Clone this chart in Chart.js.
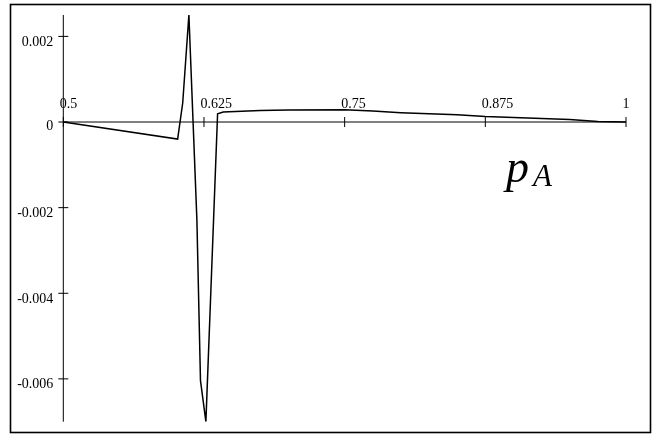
<!DOCTYPE html>
<html>
<head>
<meta charset="utf-8">
<script src="https://cdn.jsdelivr.net/npm/chart.js@4/dist/chart.umd.min.js"></script>
<style>
  html, body { margin: 0; padding: 0; background: #fff; }
  #c { display: block; }
</style>
</head>
<body>
<canvas id="c" width="664" height="436"></canvas>
<script>
// ---- data ----
const xValues = [0.5, 0.6016, 0.6061, 0.6116, 0.6187, 0.6219, 0.6267, 0.6371, 0.6421, 0.675, 0.70, 0.75, 0.775, 0.80, 0.85, 0.875, 0.90, 0.95, 0.975, 1.0];
const yValues = [0, -0.000397, 0.000444, 0.0025, -0.00228, -0.00604, -0.0070, 0.000194, 0.000234, 0.000271, 0.000283, 0.000285, 0.000255, 0.000217, 0.00017, 0.000131, 0.000107, 0.00006, 0.000014, 0];
const xTicks = [0.5, 0.625, 0.75, 0.875, 1];
const xTickLabels = ['0.5', '0.625', '0.75', '0.875', '1'];
const yTicks = [0.002, 0, -0.002, -0.004, -0.006];
const yTickLabels = ['0.002', '0', '-0.002', '-0.004', '-0.006'];
const axisTitleMain = 'p';
const axisTitleSub = 'A';

const points = xValues.map((x, i) => ({ x: x, y: yValues[i] }));

const axesPlugin = {
  id: 'customAxes',
  afterDraw(chart) {
    const ctx = chart.ctx;
    const xs = chart.scales.x, ys = chart.scales.y;
    const area = chart.chartArea;
    ctx.save();
    // outer frame
    ctx.strokeStyle = '#000';
    ctx.lineWidth = 1.6;
    ctx.strokeRect(10.5, 4.5, 640, 428);

    ctx.lineWidth = 1;
    const y0 = ys.getPixelForValue(0);
    const xAxisX = xs.getPixelForValue(xTicks[0]);
    // y axis line
    ctx.beginPath();
    ctx.moveTo(xAxisX, area.top);
    ctx.lineTo(xAxisX, area.bottom);
    ctx.stroke();
    // x axis line
    ctx.beginPath();
    ctx.moveTo(area.left, y0);
    ctx.lineTo(area.right, y0);
    ctx.stroke();

    ctx.font = '14px "Liberation Serif", "Times New Roman", serif';
    ctx.fillStyle = '#000';
    // y ticks
    ctx.textAlign = 'right';
    ctx.textBaseline = 'alphabetic';
    yTicks.forEach((v, i) => {
      const py = ys.getPixelForValue(v);
      ctx.beginPath();
      ctx.moveTo(xAxisX - 5, py);
      ctx.lineTo(xAxisX + 5, py);
      ctx.stroke();
      ctx.fillText(yTickLabels[i], xAxisX - 10, py + (v === 0 ? 8 : 9.5));
    });
    // x ticks
    ctx.textAlign = 'left';
    xTicks.forEach((v, i) => {
      const px = xs.getPixelForValue(v);
      ctx.beginPath();
      ctx.moveTo(px, y0 - 5);
      ctx.lineTo(px, y0 + 5);
      ctx.stroke();
      ctx.fillText(xTickLabels[i], px - 3.5, y0 - 14);
    });
    // axis title p_A
    ctx.font = 'italic 46px "Liberation Serif", "Times New Roman", serif';
    ctx.fillText(axisTitleMain, 506, 181.5);
    ctx.font = 'italic 31px "Liberation Serif", "Times New Roman", serif';
    ctx.fillText(axisTitleSub, 533, 186);
    ctx.restore();
  }
};

new Chart(document.getElementById('c'), {
  type: 'scatter',
  data: {
    datasets: [{
      data: points,
      showLine: true,
      borderColor: '#000',
      borderWidth: 1.5,
      pointRadius: 0,
      tension: 0,
      fill: false
    }]
  },
  options: {
    responsive: false,
    animation: false,
    events: [],
    layout: { padding: { left: 63.3, top: 15, right: 38, bottom: 14.3 } },
    plugins: { legend: { display: false }, tooltip: { enabled: false }, title: { display: false } },
    scales: {
      x: { type: 'linear', display: false, min: 0.5, max: 1 },
      y: { type: 'linear', display: false, min: -0.007, max: 0.0025 }
    }
  },
  plugins: [axesPlugin]
});
</script>
</body>
</html>
